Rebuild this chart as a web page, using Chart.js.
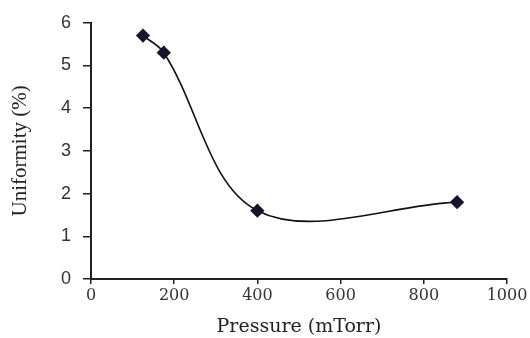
<!DOCTYPE html>
<html>
<head>
<meta charset="utf-8">
<script src="https://cdn.jsdelivr.net/npm/chart.js@4"></script>
<style>
  html, body { margin: 0; padding: 0; background: #fff; }
  #wrap { width: 530px; height: 338px; position: relative; }
</style>
</head>
<body>
<div id="wrap"><canvas id="chart"></canvas></div>
<script>
// Uniformity vs. pressure — smoothed line with diamond markers
const pressure = [125, 175, 400, 880];        // mTorr
const uniformity = [5.7, 5.3, 1.6, 1.8];      // %
const xTicks = [0, 200, 400, 600, 800, 1000];
const yTicks = [0, 1, 2, 3, 4, 5, 6];

const points = pressure.map((x, i) => ({ x, y: uniformity[i] }));

new Chart(document.getElementById('chart'), {
    type: 'scatter',
    data: {
        datasets: [{
            data: points,
            showLine: true,
            tension: 0.35,
            borderColor: '#111',
            borderWidth: 1.6,
            pointStyle: 'rectRot',
            pointRadius: 6,
            pointBackgroundColor: '#15152e',
            pointBorderColor: '#15152e',
        }],
    },
    options: {
        responsive: true,
        maintainAspectRatio: false,
        animation: false,
        layout: { padding: { top: 21, right: 23, left: 0, bottom: 0 } },
        plugins: { legend: { display: false }, tooltip: { enabled: false } },
        scales: {
            x: {
                type: 'linear',
                min: xTicks[0], max: xTicks[xTicks.length - 1],
                afterBuildTicks: (s) => { s.ticks = xTicks.map((v) => ({ value: v })); },
                afterFit: (s) => { s.height = 59; },
                border: { color: '#222', width: 2 },
                grid: { drawOnChartArea: false, color: '#222', tickLength: 5, lineWidth: 1.5 },
                ticks: {
                    color: '#333', padding: 2,
                    callback: (v) => String(v),
                    font: { family: '"DejaVu Serif", serif', size: 16 },
                },
                title: {
                    display: true, text: 'Pressure (mTorr)', color: '#222',
                    font: { family: '"DejaVu Serif", serif', size: 19 },
                    padding: { top: 0, bottom: 0 },
                },
            },
            y: {
                min: yTicks[0], max: yTicks[yTicks.length - 1],
                afterBuildTicks: (s) => { s.ticks = yTicks.map((v) => ({ value: v })); },
                afterFit: (s) => { s.width = 91; },
                border: { color: '#222', width: 2 },
                grid: { drawOnChartArea: false, color: '#222', tickLength: 8, lineWidth: 1.5 },
                ticks: {
                    color: '#333', padding: 12,
                    font: { family: '"Liberation Sans", Arial, sans-serif', size: 18 },
                },
                title: {
                    display: true, text: 'Uniformity (%)', color: '#222',
                    font: { family: '"Liberation Serif", serif', size: 21 },
                    padding: { top: 8, bottom: 4 },
                },
            },
        },
    },
});
</script>
</body>
</html>
